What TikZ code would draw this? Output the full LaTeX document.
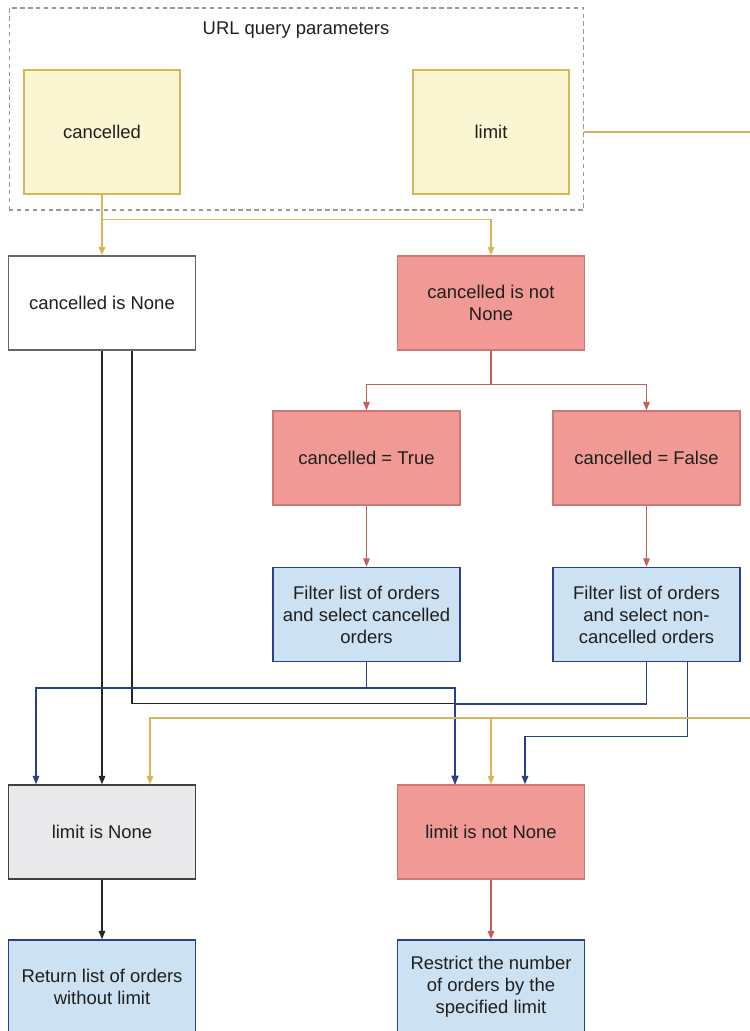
\documentclass[tikz,border=0pt]{standalone}
\usepackage{fontspec}
\setmainfont{Liberation Sans}
\usetikzlibrary{arrows.meta,positioning,calc}
\definecolor{ParamFill}{RGB}{250,246,210}
\definecolor{ParamLine}{RGB}{214,182,86}
\definecolor{CondFill}{RGB}{240,153,149}
\definecolor{CondLine}{RGB}{196,96,92}
\definecolor{ActFill}{RGB}{204,225,242}
\definecolor{ActLine}{RGB}{40,64,140}
\definecolor{NoneFill}{RGB}{233,233,235}
\colorlet{TextDark}{black!88}
\colorlet{GroupGray}{black!40}

\begin{document}
\begin{tikzpicture}[x=0.02cm,y=-0.02cm,
    every node/.style={font=\fontsize{10.5}{12.5}\selectfont,text=TextDark,align=center},
    basebox/.style={rectangle,minimum width=3.74cm,minimum height=1.88cm,line width=0.75pt,inner sep=2pt},
    parambox/.style={rectangle,minimum width=3.12cm,minimum height=2.48cm,line width=0.75pt,
      fill=ParamFill,draw=ParamLine},
    condbox/.style={basebox,fill=CondFill,draw=CondLine!85},
    actbox/.style={basebox,fill=ActFill,draw=ActLine},
    link/.style={line width=0.75pt,-{Triangle[length=1.7mm,width=1.3mm]}},
    ylw/.style={link,ParamLine},
    redl/.style={link,CondLine},
    bluel/.style={link,ActLine},
    blackl/.style={link,black!85}
  ]
    \useasboundingbox (0,0) rectangle (750,1031);
    \clip (0,0) rectangle (750,1031);

    % query parameters
    \node[rectangle,draw=GroupGray,dash pattern=on 2.5pt off 2pt,line width=0.6pt,
      minimum width=11.5cm,minimum height=4.04cm] (group) at (296.5,109) {};
    \node (grouptitle) at (296,30) {URL query parameters};
    \node[parambox] (cancelled) at (102,132) {cancelled};
    \node[parambox] (limit) at (491,132) {limit};

    % checks on cancelled
    \node[basebox,fill=white,draw=black!60] (isnone) at (102,303) {cancelled is None};
    \node[condbox] (notnone) at (491,303) {cancelled is not\\None};
    \node[condbox] (true) at (366.5,458) {cancelled = True};
    \node[condbox] (false) at (646.5,458) {cancelled = False};
    \node[actbox] (filtT) at (366.5,614.5) {Filter list of orders\\and select cancelled\\orders};
    \node[actbox] (filtF) at (646.5,614.5) {Filter list of orders\\and select non-\\cancelled orders};

    % checks on limit
    \node[basebox,fill=NoneFill,draw=black!75] (limnone) at (102,832) {limit is None};
    \node[condbox] (notlim) at (491,832) {limit is not None};
    \node[actbox] (ret) at (102,987) {Return list of orders\\without limit};
    \node[actbox] (restr) at (491,987) {Restrict the number\\of orders by the\\specified limit};

    \coordinate (limitout) at (750,132);
    \coordinate (limitin) at (750,718);

    % connectors
    \draw[ylw] (cancelled.south) -- ++(0,25) coordinate (split) -| (notnone.north);
    \draw[ylw] (split) -- (isnone.north);
    \draw[line width=0.75pt,ParamLine] (limit.east -| group.east) -- (limitout);

    \draw[redl] (notnone.south) -- ++(0,34) coordinate (fork) -| (true.north);
    \draw[redl] (fork) -| (false.north);
    \draw[redl] (true) -- (filtT);
    \draw[redl] (false) -- (filtF);

    \draw[blackl] (isnone.south) -- (limnone.north);
    \draw[blackl] ($(isnone.south)+(30,0)$) -- ++(0,353) -| ($(notlim.north)+(-36,0)$);

    \draw[bluel] (filtT.south) -- ++(0,26) -| ($(limnone.north)+(-66,0)$);
    \draw[bluel] (filtT.south) -- ++(0,26) -| ($(notlim.north)+(-36,0)$);
    \draw[bluel] (filtF.south) -- ++(0,42) -| ($(notlim.north)+(-36,0)$);
    \draw[bluel] ($(filtF.south)+(41,0)$) -- ++(0,74) -| ($(notlim.north)+(34,0)$);

    \draw[ylw] (limitin) -| ($(limnone.north)+(48,0)$);
    \draw[ylw] (limitin -| notlim.north) -- (notlim.north);

    \draw[blackl] (limnone) -- (ret);
    \draw[redl] (notlim) -- (restr);
\end{tikzpicture}
\end{document}
